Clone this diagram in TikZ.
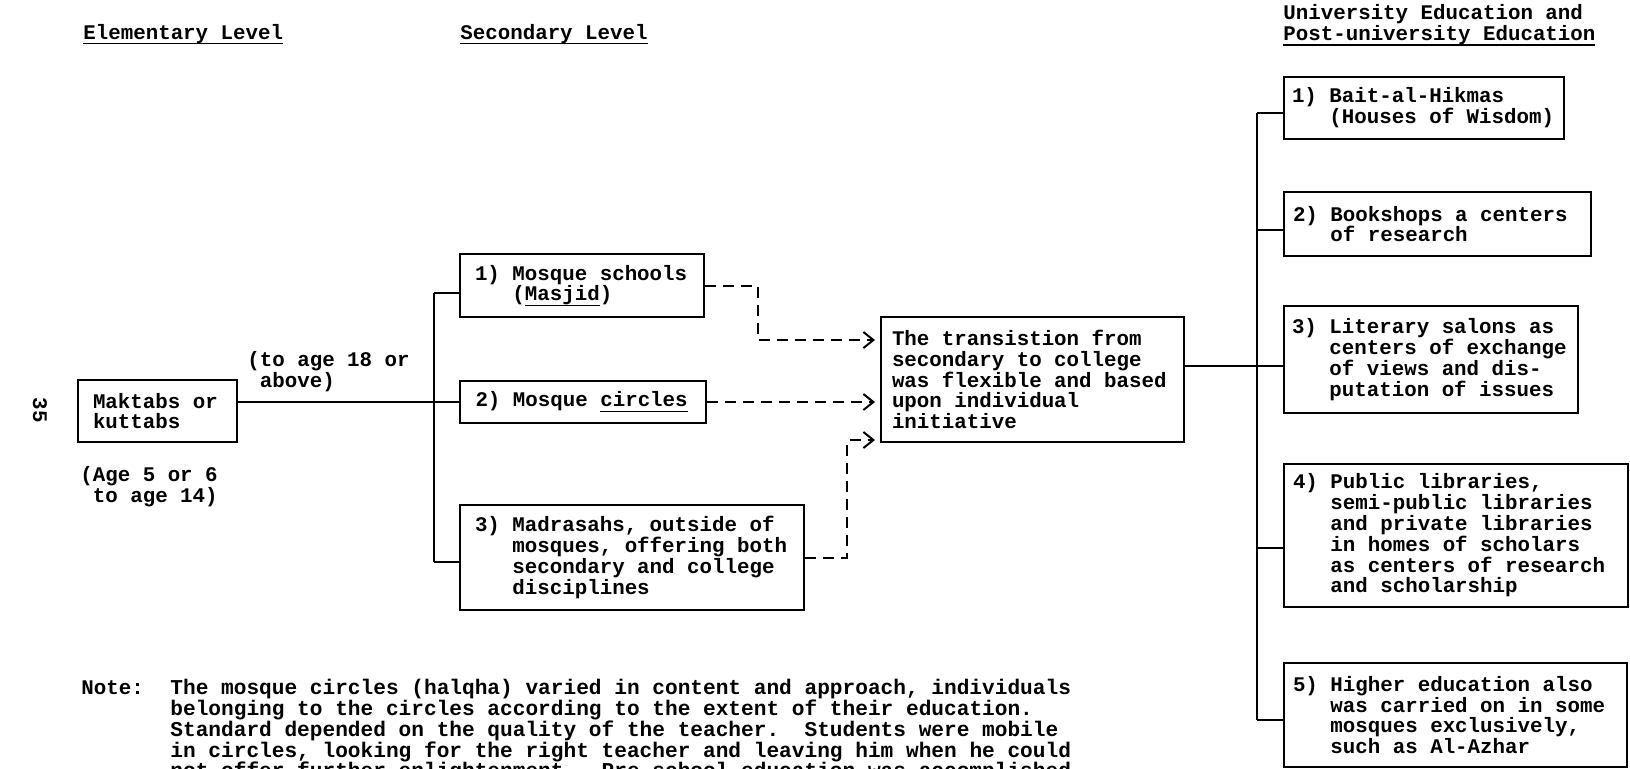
\documentclass[tikz,border=0pt]{standalone}
\usepackage{fontspec}
\usepackage{tikz}
\usetikzlibrary{arrows.meta}
\usetikzlibrary{calc}
\newfontfamily\typewr{Liberation Mono}
\newcommand{\tw}{\typewr\bfseries\fontsize{10.4pt}{10.4pt}\selectfont
  \lineskiplimit=-10pt\frenchspacing}
\newcommand{\twnote}{\typewr\bfseries\fontsize{10.57pt}{10.4pt}\selectfont
  \lineskiplimit=-10pt\frenchspacing}
\newcommand{\indt}{\hspace*{1.8em}}
\newlength{\ulwd}
\newcommand{\ulin}[1]{\settowidth{\ulwd}{#1}\rlap{\rule[-2.6pt]{\ulwd}{0.7pt}}#1}
\tikzset{
    >={Straight Barb[length=5pt,width=8pt]}, % typed chevron
    levelbox/.style={draw, line width=1pt, anchor=north west, align=flush left, inner ysep=2pt, font=\tw},
    branch/.style={line width=0.9pt},
    % dashed connector with a chevron at its end
    dashflow/.style={->, line width=1pt, dash pattern=on 5.5pt off 3.5pt, shorten >=2.5pt},
    textlabel/.style={inner sep=0pt, align=flush left, font=\tw}
}

\begin{document}
\begin{tikzpicture}[x=0.5pt, y=-0.5pt]
  \useasboundingbox (0,0) rectangle (1630,768);
  \clip (0,0) rectangle (1630,768);

  % Column headings
  \node[textlabel, anchor=base west] (elemhead) at (83,39) {\ulin{Elementary Level}};
  \node[textlabel, anchor=base west] (sechead) at (460,39) {\ulin{Secondary Level}};
  \node[textlabel, anchor=west] (unihead) at (1283,25) {University Education and\\\ulin{Post-university Education}};

  % Page number
  \node[textlabel, rotate=-90] (pagenum) at (40,410) {35};

  % Elementary level
  \node[levelbox, inner xsep=7.5pt, text width=64.5pt, minimum height=31pt] (mak) at (77,379) {Maktabs or\\kuttabs};
  \node[textlabel, anchor=west] (agelabel) at (80,487) {(Age 5 or 6\\\hspace*{0.6em}to age 14)};
  \node[textlabel, anchor=west] (uplabel) at (247,372) {(to age 18 or\\\hspace*{0.6em}above)};

  % Secondary level
  \node[levelbox, inner xsep=7.5pt, text width=107pt, minimum height=31.5pt] (sec1) at (459,253)
    {1) Mosque schools\\\indt(\ulin{Masjid})};
  \node[levelbox, inner xsep=7.75pt, text width=107.5pt, minimum height=21pt] (sec2) at (459,380)
    {2) Mosque \ulin{circles}};
  \node[levelbox, inner xsep=7.5pt, text width=157pt, minimum height=52.5pt] (sec3) at (459,504)
    {3) Madrasahs, outside of\\\indt mosques, offering both\\\indt secondary and college\\\indt disciplines};

  % Transition to college
  \node[levelbox, inner xsep=5.5pt, text width=140.5pt, minimum height=62.5pt] (trans) at (880,316)
    {The transistion from\\secondary to college\\was flexible and based\\upon individual\\initiative};

  % University and post-university
  \node[levelbox, inner xsep=4pt, text width=132pt, minimum height=31pt] (uni1) at (1283,76)
    {1) Bait-al-Hikmas\\\indt(Houses of Wisdom)};
  \node[levelbox, inner xsep=4.5pt, text width=144.5pt, minimum height=32pt] (uni2) at (1283,191)
    {2) Bookshops a centers\\\indt of research};
  \node[levelbox, inner xsep=4pt, text width=139pt, minimum height=53.5pt] (uni3) at (1283,305)
    {3) Literary salons as\\\indt centers of exchange\\\indt of views and dis-\\\indt putation of issues};
  \node[levelbox, inner xsep=4.5pt, text width=163pt, minimum height=71.5pt] (uni4) at (1283,463)
    {4) Public libraries,\\\indt semi-public libraries\\\indt and private libraries\\\indt in homes of scholars\\\indt as centers of research\\\indt and scholarship};
  \node[levelbox, inner xsep=4.5pt, text width=162.5pt, minimum height=52pt] (uni5) at (1283,662)
    {5) Higher education also\\\indt was carried on in some\\\indt mosques exclusively,\\\indt such as Al-Azhar};

  % Left bracket
  \coordinate (lb1) at (434,293);
  \coordinate (lb3) at (434,562);
  \draw[branch] (lb1) -- (lb3);
  \draw[branch] (mak.east |- sec2.west) -- (sec2.west);
  \draw[branch] (lb1) -- (lb1 -| sec1.west);
  \draw[branch] (lb3) -- (lb3 -| sec3.west);

  % Dashed flows into the transition box
  \draw[dashflow] (sec1.east) -| ([xshift=-61pt,yshift=19.75pt]trans.west) -- ([yshift=19.75pt]trans.west);
  \draw[dashflow] (sec2.east) -- (sec2.east -| trans.west);
  \draw[dashflow] (sec3.east) -| ([xshift=-16.5pt,yshift=1.5pt]trans.south west) -- ([yshift=1.5pt]trans.south west);

  % Right bracket
  \foreach \i/\y in {1/113, 2/230, 3/366, 4/548, 5/720}
    \coordinate (rb\i) at (1257,\y);
  \draw[branch] (rb1) -- (rb5);
  \foreach \i in {1,...,5}
    \draw[branch] (rb\i) -- (rb\i -| uni\i.west);
  \draw[branch] (trans.east |- rb3) -- (rb3);

  % Note
  \node[textlabel, anchor=base west] (notelabel) at (81,694) {Note:};
  \node[textlabel, font=\twnote, anchor=north west, text width=470pt] (notetext) at (170,679)
    {The mosque circles (halqha) varied in content and approach, individuals\\
     belonging to the circles according to the extent of their education.\\
     Standard depended on the quality of the teacher.\ \ Students were mobile\\
     in circles, looking for the right teacher and leaving him when he could\\
     not offer further enlightenment.\ \ Pre-school education was accomplished};

\end{tikzpicture}
\end{document}
